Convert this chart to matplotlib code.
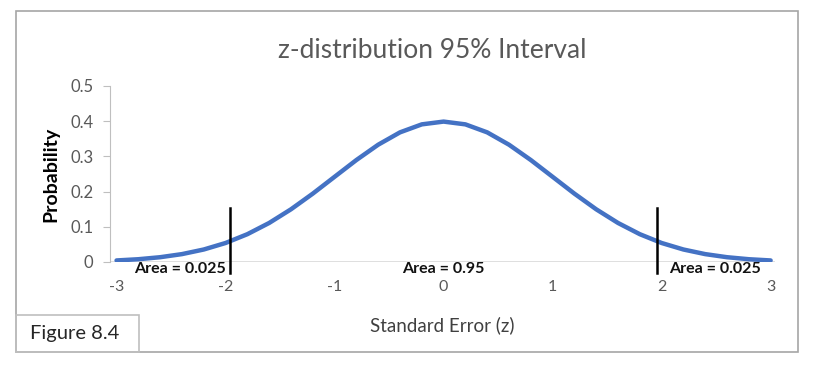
import matplotlib.pyplot as plt
from matplotlib.patches import Rectangle

# valores (curva z)
z = [-3.0, -2.8, -2.6, -2.4, -2.2, -2.0, -1.8, -1.6, -1.4, -1.2, -1.0, -0.8, -0.6, -0.4, -0.2,
     0.0, 0.2, 0.4, 0.6, 0.8, 1.0, 1.2, 1.4, 1.6, 1.8, 2.0, 2.2, 2.4, 2.6, 2.8, 3.0]
prob = [0.0044, 0.0079, 0.0136, 0.0224, 0.0355, 0.0540, 0.0790, 0.1109, 0.1497, 0.1942,
        0.2420, 0.2897, 0.3332, 0.3683, 0.3910, 0.3989, 0.3910, 0.3683, 0.3332, 0.2897,
        0.2420, 0.1942, 0.1497, 0.1109, 0.0790, 0.0540, 0.0355, 0.0224, 0.0136, 0.0079, 0.0044]
cortes = [-1.96, 1.96]
areas = ['Area = 0.025', 'Area = 0.95', 'Area = 0.025']
pos_areas = [-2.42, 0.0, 2.49]
xticks = [-3, -2, -1, 0, 1, 2, 3]
yticks = [0, 0.1, 0.2, 0.3, 0.4, 0.5]

plt.rcParams['font.family'] = ['Lato', 'DejaVu Sans']

fig = plt.figure(figsize=(8.22, 3.67), dpi=100)
ax = fig.add_axes([110 / 822, 1 - 262 / 367, 665 / 822, 176 / 367])

ax.plot(z, prob, color='#4472C4', lw=3.2, solid_capstyle='round', zorder=3)
for c in cortes:
    ax.plot([c, c], [-0.03, 0.153], color='black', lw=1.8, clip_on=False, zorder=4)
ax.axhline(0, color='#D9D9D9', lw=1.2, zorder=1)

for t, xp in zip(areas, pos_areas):
    ax.text(xp, 0.001, t, ha='center', va='top', fontsize=11.5, fontweight='bold', color='#111111')

ax.set_xlim(-3.06, 3.04)
ax.set_ylim(0, 0.5)
ax.set_xticks(xticks)
ax.set_xticklabels([str(v) for v in xticks])
ax.set_yticks(yticks)
ax.set_yticklabels(['0', '0.1', '0.2', '0.3', '0.4', '0.5'])
ax.tick_params(axis='x', length=0, pad=13, labelsize=11.5, colors='#595959')
ax.tick_params(axis='y', length=5, direction='out', labelsize=12, colors='#595959', pad=7)
ax.tick_params(axis='y', color='#BFBFBF')
for s in ['top', 'right', 'bottom']:
    ax.spines[s].set_visible(False)
ax.spines['left'].set_color('#BFBFBF')

ax.set_title('z-distribution 95% Interval', fontsize=19, color='#595959', pad=20, x=0.484)
ax.set_xlabel('Standard Error (z)', fontsize=13.5, color='#404040', labelpad=16)
ax.set_ylabel('Probability', fontsize=14, fontweight='bold', color='black', labelpad=8)

# moldura e caixa da figura
fig.patches.append(Rectangle((16 / 822, 1 - 352 / 367), 782 / 822, 341 / 367, transform=fig.transFigure,
                             fill=False, edgecolor='#A6A6A6', lw=1.2))
fig.patches.append(Rectangle((16 / 822, 1 - 352 / 367), 123 / 822, 37 / 367, transform=fig.transFigure,
                             fill=False, edgecolor='#BFBFBF', lw=1.2))
fig.text(75 / 822, 1 - 334 / 367, 'Figure 8.4', ha='center', va='center', fontsize=14.5, color='#262626')

fig.savefig('out.png', dpi=100)
